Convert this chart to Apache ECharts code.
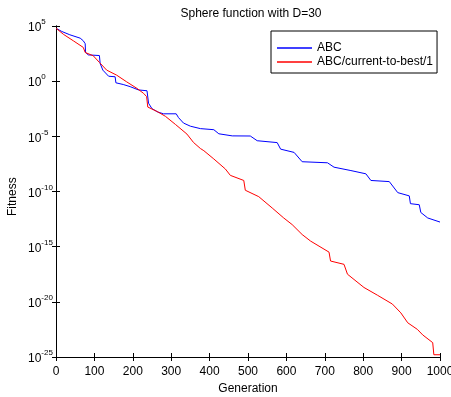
<!DOCTYPE html>
<html><head><meta charset="utf-8">
<script src="https://cdn.jsdelivr.net/npm/echarts@6/dist/echarts.min.js"></script>
<style>html,body{margin:0;padding:0;background:#fff}#c{width:451px;height:397px}</style>
</head><body><div id="c"></div>
<script>
// Generation values and fitness values
const abcGen = [0,15,36,63,71,76,77,84,113,115,122,137,154,156,175,193,215,237,241,250,265,280,313,319,332,350,376,411,424,459,506,524,576,585,620,641,707,724,768,807,820,868,890,920,923,946,950,968,1000];
const abcFit = [6.3e4,3.2e4,1.6e4,7.9e3,4.6e3,2.5e3,4.0e2,2.4e2,2.1e2,4.0e1,1.0e1,2.8e0,2.5e0,7.1e-1,5.0e-1,3.2e-1,1.6e-1,1.35e-1,1.0e-2,3.2e-3,1.6e-3,1.1e-3,1.1e-3,5.0e-4,1.6e-4,8.3e-5,5.0e-5,4.0e-5,1.7e-5,1.1e-5,1.07e-5,4.0e-6,2.7e-6,6.9e-7,3.5e-7,5.0e-8,4.0e-8,1.6e-8,7.9e-9,4.0e-9,1.0e-9,7.9e-10,7.9e-11,4.0e-11,7.9e-12,6.3e-12,1.26e-12,4.0e-13,1.7e-13];
const curGen = [0,19,45,71,76,97,113,132,158,184,211,228,236,239,263,285,311,341,358,376,385,411,441,454,489,493,528,563,593,615,641,663,711,715,750,759,802,837,876,898,916,941,955,981,984,1000];
const curFit = [6.3e4,1.8e4,4.6e3,1.15e3,4.0e2,2.0e2,5.0e1,1.0e1,3.5e0,8.7e-1,2.2e-1,7.9e-2,4.0e-2,4.5e-3,1.8e-3,6.5e-4,1.2e-4,1.6e-5,2.8e-6,7.9e-7,5.0e-7,8.9e-8,1.1e-8,2.9e-9,1.0e-9,1.3e-10,3.4e-11,3.2e-12,4.0e-13,1.0e-13,1.26e-14,3.2e-15,3.2e-16,5.0e-17,2.5e-17,3.2e-18,2.0e-19,4.0e-20,6.3e-21,1.0e-21,1.26e-22,3.2e-23,1.0e-23,2.0e-24,1.6e-25,1.6e-25];
const xTicks = [0,100,200,300,400,500,600,700,800,900,1000];
const yTicks = [1e5,1e0,1e-5,1e-10,1e-15,1e-20,1e-25];

const chart = echarts.init(document.getElementById('c'), null, {renderer:'canvas'});
const font = 'Liberation Sans, Arial, sans-serif';
const zip = (a,b)=>a.map((v,i)=>[v,b[i]]);
const tickStyle = {show:true, inside:true, length:4, lineStyle:{color:'#000', width:1}};
chart.setOption({
  animation:false,
  backgroundColor:'#fff',
  title:{text:'Sphere function with D=30', left:246, textAlign:'center', top:3,
    textStyle:{fontFamily:font, fontSize:12, fontWeight:'normal', color:'#000'}},
  legend:{orient:'vertical', left:271, top:31, padding:[11,4,5,6], itemGap:2,
    itemWidth:35, itemHeight:1.5, icon:'rect', borderColor:'#000', borderWidth:1, backgroundColor:'#fff',
    textStyle:{fontFamily:font, fontSize:12, color:'#000'}},
  grid:{left:56, right:11, top:26, bottom:40, containLabel:false, outerBoundsMode:'none'},
  graphic:[{type:'text', rotation:Math.PI/2, style:{text:'Fitness', font:'12px '+font, fill:'#000'},
    x:7, y:216}],
  xAxis:[{type:'value', min:xTicks[0], max:xTicks[xTicks.length-1], interval:100,
    name:'Generation', nameLocation:'middle', nameGap:24,
    nameTextStyle:{fontFamily:font, fontSize:12, color:'#000'},
    axisLine:{show:true, lineStyle:{color:'#000', width:1}}, axisTick:tickStyle,
    axisLabel:{fontFamily:font, fontSize:12, color:'#000', margin:9, formatter:v=>String(v), hideOverlap:false}, splitLine:{show:false}},
   {type:'value', position:'top', min:0, max:1000, interval:100,
    axisLine:{show:true, lineStyle:{color:'#000', width:1}}, axisTick:tickStyle,
    axisLabel:{show:false}, splitLine:{show:false}}],
  yAxis:[{type:'log', logBase:10, min:1e-25, max:1e5, interval:5,
    axisLine:{show:true, lineStyle:{color:'#000', width:1}},
    axisTick:Object.assign({customValues:yTicks}, tickStyle),
    axisLabel:{customValues:yTicks, align:'left', margin:28, showMinLabel:true, showMaxLabel:true, hideOverlap:false, fontFamily:font, fontSize:12, color:'#000',
      formatter:v=>{const e=Math.round(Math.log10(v)); return '{b|10}{s|'+e+'}';},
      rich:{b:{fontFamily:font, fontSize:12, color:'#000', padding:[4,0,0,0]}, s:{fontFamily:font, fontSize:8, color:'#000', verticalAlign:'top', padding:[0,0,6,0]}}},
    splitLine:{show:false}},
   {type:'log', logBase:10, position:'right', min:1e-25, max:1e5, interval:5,
    axisLine:{show:true, lineStyle:{color:'#000', width:1}},
    axisTick:Object.assign({customValues:yTicks}, tickStyle),
    axisLabel:{show:false}, splitLine:{show:false}}],
  series:[
    {name:'ABC', type:'line', data:zip(abcGen,abcFit), symbol:'none', lineStyle:{color:'#0000ff', width:1}, itemStyle:{color:'#0000ff'}, z:2},
    {name:'ABC/current-to-best/1', type:'line', data:zip(curGen,curFit), symbol:'none', lineStyle:{color:'#ff0000', width:1}, itemStyle:{color:'#ff0000'}, z:3}
  ]
});
</script></body></html>
